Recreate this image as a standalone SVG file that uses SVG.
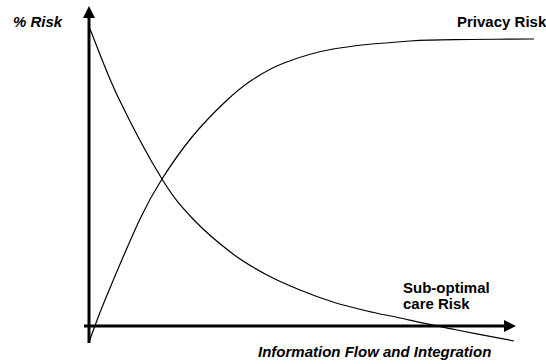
<svg xmlns="http://www.w3.org/2000/svg" width="546" height="364" viewBox="0 0 546 364">
  <style>
    .axis { stroke: #000; stroke-width: 3; fill: none; }
    .curve { stroke: #000; stroke-width: 1.2; fill: none; }
    .lbl { font-family: "Liberation Sans", Arial, Helvetica, sans-serif; font-size: 15px; font-weight: bold; fill: #000; }
    .it { font-style: italic; }
  </style>
  <defs>
    <marker id="head" viewBox="0 0 12 12" refX="0" refY="6" markerWidth="12" markerHeight="12" markerUnits="userSpaceOnUse" orient="auto">
      <path d="M0,0 L12,6 L0,12 Z" fill="#000"/>
    </marker>
  </defs>

  <!-- axes -->
  <g id="axes">
    <line class="axis" x1="89" y1="343" x2="89" y2="18" marker-end="url(#head)"/>
    <line class="axis" x1="84" y1="326" x2="504" y2="326" marker-end="url(#head)"/>
  </g>

  <!-- risk curves -->
  <g id="connectors">
    <path id="privacy-curve" class="curve" d="M89,342 C91.7,335 96.5,320.5 105,300 C113.5,279.5 130.5,239.2 140,219 C149.5,198.8 153.3,192.7 162,179 C170.7,165.3 181.5,149.8 192,137 C202.5,124.2 215,111.5 225,102 C235,92.5 242.2,86.5 252,80 C261.8,73.5 270.5,68.2 284,63 C297.5,57.8 312,52.7 333,49 C354,45.3 387.2,42.6 410,41 C432.8,39.4 449.3,39.8 470,39.5 C490.7,39.2 523.3,39.1 534,39"/>
    <path id="care-curve" class="curve" d="M90,29 C94.7,40.3 106,72 118,97 C130,122 149.5,158.7 162,179 C174.5,199.3 181.2,206.5 193,219 C204.8,231.5 220.7,244.7 233,254 C245.3,263.3 255.8,269 267,275 C278.2,281 289,285.5 300,290 C311,294.5 321.8,298.5 333,302 C344.2,305.5 355.8,308.3 367,311 C378.2,313.7 385,314.8 400,318 C415,321.2 438,326.2 457,330 C476,333.8 504.5,339.2 514,341"/>
  </g>

  <g id="label-y"><text class="lbl it" x="13" y="27">% Risk</text></g>
  <g id="label-privacy"><text class="lbl" x="457" y="27">Privacy Risk</text></g>
  <g id="label-care">
    <text class="lbl" x="403" y="293">Sub-optimal</text>
    <text class="lbl" x="403" y="309">care Risk</text>
  </g>
  <g id="label-x"><text class="lbl it" x="258" y="357">Information Flow and Integration</text></g>
</svg>
